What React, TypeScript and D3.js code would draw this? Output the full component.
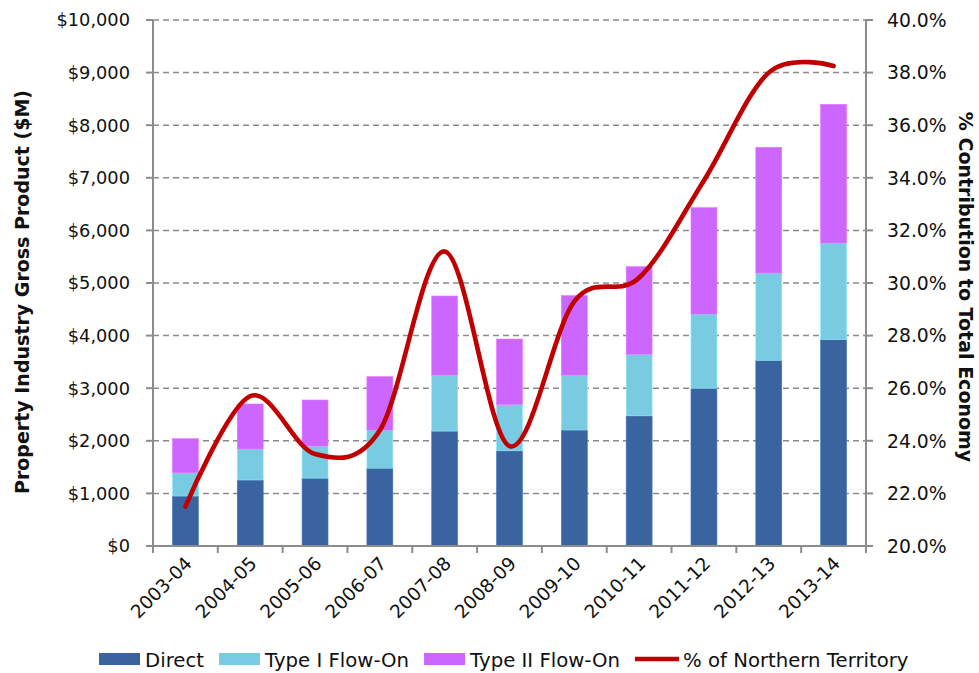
import { useEffect, useRef } from "react"
import * as d3 from "d3"

const categories = [
  "2003-04", "2004-05", "2005-06", "2006-07", "2007-08", "2008-09",
  "2009-10", "2010-11", "2011-12", "2012-13", "2013-14",
]
const direct = [950, 1255, 1290, 1480, 2185, 1810, 2205, 2475, 3000, 3530, 3925]
const typeOne = [443, 589, 610, 725, 1066, 880, 1045, 1169, 1410, 1660, 1835]
const typeTwo = [647, 856, 876, 1015, 1502, 1245, 1510, 1666, 2022, 2390, 2637]
const pctNT = [21.5, 25.7, 23.5, 24.4, 31.2, 23.8, 29.3, 30.2, 33.9, 38.0, 38.25]

const seriesNames = ["Direct", "Type I Flow-On", "Type II Flow-On"]
const seriesColors = ["#3A64A0", "#78CBE0", "#CC66FF"]
const lineName = "% of Northern Territory"
const lineColor = "#C00000"

const leftTicks = [0, 1000, 2000, 3000, 4000, 5000, 6000, 7000, 8000, 9000, 10000]
const rightTicks = [20, 22, 24, 26, 28, 30, 32, 34, 36, 38, 40]

const W = 979
const H = 673
const FONT = "'DejaVu Sans', Verdana, sans-serif"

export default function App() {
  const svgRef = useRef<SVGSVGElement>(null)

  useEffect(() => {
    const svg = d3.select(svgRef.current!)
    svg.selectAll("*").remove()

    const left = 153
    const right = 866
    const top = 20
    const bottom = 546

    const x = d3.scaleBand<string>().domain(categories).range([left, right]).paddingInner(0.6).paddingOuter(0.3)
    const y = d3.scaleLinear().domain([0, 10000]).range([bottom, top])
    const y2 = d3.scaleLinear().domain([20, 40]).range([bottom, top])
    const step = x.step()
    const axisColor = "#8c8c8c"

    // gridlines
    svg
      .append("g")
      .selectAll("line")
      .data(leftTicks.filter((t) => t > 0))
      .enter()
      .append("line")
      .attr("x1", left)
      .attr("x2", right)
      .attr("y1", (d) => y(d))
      .attr("y2", (d) => y(d))
      .attr("stroke", "#8a8a8a")
      .attr("stroke-width", 1.5)
      .attr("stroke-dasharray", "6,4")

    // stacked bars
    const rows = categories.map((c, i) => ({ cat: c, s0: direct[i], s1: typeOne[i], s2: typeTwo[i] }))
    const stack = d3.stack<(typeof rows)[number]>().keys(["s0", "s1", "s2"])(rows)
    stack.forEach((layer, k) => {
      svg
        .append("g")
        .selectAll("rect")
        .data(layer)
        .enter()
        .append("rect")
        .attr("x", (d) => x(d.data.cat)!)
        .attr("width", x.bandwidth())
        .attr("y", (d) => y(d[1]))
        .attr("height", (d) => y(d[0]) - y(d[1]))
        .attr("fill", seriesColors[k])
        .attr("stroke", d3.color(seriesColors[k])!.brighter(0.4).formatHex())
        .attr("stroke-width", 0.6)
    })

    // axes
    const ax = svg.append("g").attr("stroke", axisColor).attr("stroke-width", 2)
    ax.append("line").attr("x1", left).attr("x2", left).attr("y1", top).attr("y2", bottom + 1)
    ax.append("line").attr("x1", right).attr("x2", right).attr("y1", top).attr("y2", bottom + 1)
    ax.append("line").attr("x1", left - 7).attr("x2", right + 7).attr("y1", bottom).attr("y2", bottom)
    leftTicks.forEach((t) => {
      ax.append("line").attr("x1", left - 7).attr("x2", left).attr("y1", y(t)).attr("y2", y(t))
    })
    rightTicks.forEach((t) => {
      ax.append("line").attr("x1", right).attr("x2", right + 7).attr("y1", y2(t)).attr("y2", y2(t))
    })
    const bounds = categories.map((c) => x(c)! - step * 0.3).concat([right])
    bounds.forEach((b) => {
      ax.append("line").attr("x1", b).attr("x2", b).attr("y1", bottom).attr("y2", bottom + 7)
    })

    const fmtL = d3.format("$,")
    svg
      .append("g")
      .selectAll("text")
      .data(leftTicks)
      .enter()
      .append("text")
      .attr("x", 130)
      .attr("y", (d) => y(d))
      .attr("dy", "0.36em")
      .attr("text-anchor", "end")
      .attr("font-family", FONT)
      .attr("font-size", 17.8)
      .attr("fill", "#111")
      .text((d) => fmtL(d))

    svg
      .append("g")
      .selectAll("text")
      .data(rightTicks)
      .enter()
      .append("text")
      .attr("x", 887)
      .attr("y", (d) => y2(d))
      .attr("dy", "0.36em")
      .attr("font-family", FONT)
      .attr("font-size", 18.8)
      .attr("fill", "#111")
      .text((d) => d.toFixed(1) + "%")

    // x labels, rotated
    svg
      .append("g")
      .selectAll("text")
      .data(categories)
      .enter()
      .append("text")
      .attr("transform", (d) => `translate(${x(d)! + x.bandwidth() / 2 + 3},${bottom + 14}) rotate(-45)`)
      .attr("text-anchor", "end")
      .attr("dy", "0.36em")
      .attr("font-family", FONT)
      .attr("font-size", 18.5)
      .attr("fill", "#111")
      .text((d) => d)

    // % line, smoothed like excel
    const line = d3
      .line<number>()
      .x((_, i) => x(categories[i])! + x.bandwidth() / 2)
      .y((d) => y2(d))
      .curve(d3.curveCardinal.tension(0))
    svg
      .append("path")
      .attr("d", line(pctNT))
      .attr("fill", "none")
      .attr("stroke", lineColor)
      .attr("stroke-width", 4.6)
      .attr("stroke-linecap", "round")

    // axis titles
    svg
      .append("text")
      .attr("transform", `translate(22,292) rotate(-90)`)
      .attr("text-anchor", "middle")
      .attr("dominant-baseline", "central")
      .attr("font-family", FONT)
      .attr("font-weight", "bold")
      .attr("font-size", 19)
      .attr("fill", "#111")
      .text("Property Industry Gross Product ($M)")
    svg
      .append("text")
      .attr("transform", `translate(966,287) rotate(90)`)
      .attr("text-anchor", "middle")
      .attr("dominant-baseline", "central")
      .attr("font-family", FONT)
      .attr("font-weight", "bold")
      .attr("font-size", 19)
      .attr("fill", "#111")
      .text("% Contribution to Total Economy")

    // legend: swatch, label, next item
    const lg = svg.append("g")
    let lx = 99
    const items = seriesNames.map((n, k) => ({ name: n, color: seriesColors[k], kind: "rect" }))
    items.push({ name: lineName, color: lineColor, kind: "line" })
    items.forEach((it) => {
      if (it.kind === "rect") {
        lg.append("rect").attr("x", lx).attr("y", 653).attr("width", 41).attr("height", 12).attr("fill", it.color)
      } else {
        lg.append("line")
          .attr("x1", lx)
          .attr("x2", lx + 44)
          .attr("y1", 659)
          .attr("y2", 659)
          .attr("stroke", it.color)
          .attr("stroke-width", 4.5)
      }
      const t = lg
        .append("text")
        .attr("x", lx + (it.kind === "rect" ? 46 : 48))
        .attr("y", 667)
        .attr("font-family", FONT)
        .attr("font-size", 19.7)
        .attr("fill", "#111")
        .text(it.name)
      const tw = (t.node() as SVGTextElement).getComputedTextLength()
      lx += (it.kind === "rect" ? 46 : 48) + tw + 15
    })
  }, [])

  return (
    <svg
      ref={svgRef}
      width={W}
      height={H}
      style={{ position: "absolute", left: 0, top: 0, background: "#fff" }}
    />
  )
}
